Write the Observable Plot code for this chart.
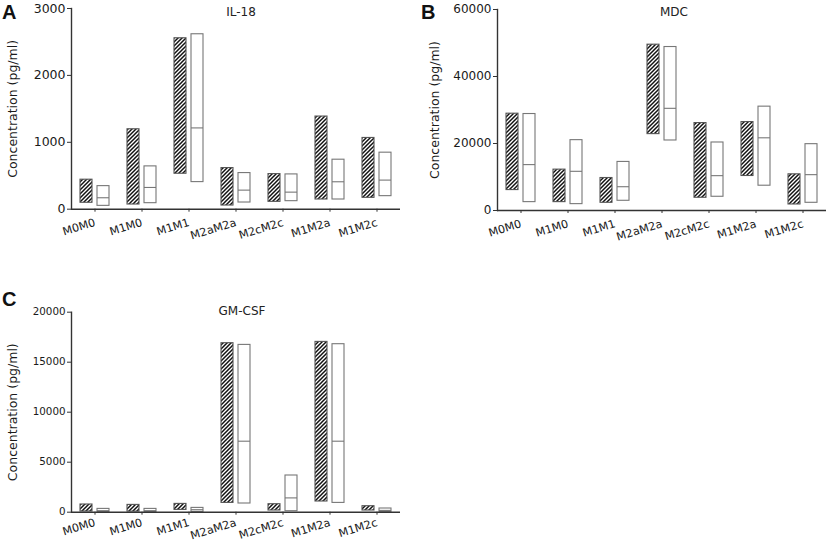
<!DOCTYPE html>
<html>
<head>
<meta charset="utf-8">
<script src="https://cdn.jsdelivr.net/npm/d3@7"></script>
<script src="https://cdn.jsdelivr.net/npm/@observablehq/plot@0.6"></script>
<style>
  body { margin: 0; background: #fff; }
  #wrap { position: relative; width: 829px; height: 542px; background: #fff; font-family: "DejaVu Sans", sans-serif; overflow: hidden; }
  .letter { position: absolute; font-family: "Liberation Sans", Arial, sans-serif; font-weight: bold; font-size: 20px; color: #111; }
  .title { position: absolute; font-size: 12px; color: #222; transform: translateX(-50%); white-space: nowrap; }
</style>
</head>
<body>
<div id="wrap"></div>
<script>
const groups = ["M0M0", "M1M0", "M1M1", "M2aM2a", "M2cM2c", "M1M2a", "M1M2c"];
const yLabel = "Concentration (pg/ml)";

// IL-18
const il18Ticks = [0, 1000, 2000, 3000];
const il18HatchLow  = [96, 70, 530, 55, 110, 145, 170];
const il18HatchHigh = [441, 1195, 2555, 615, 525, 1385, 1065];
const il18OpenLow   = [50, 90, 405, 100, 120, 145, 195];
const il18OpenHigh  = [345, 640, 2615, 540, 520, 740, 845];
const il18OpenMed   = [171, 325, 1215, 285, 255, 410, 435];

// MDC
const mdcTicks = [0, 20000, 40000, 60000];
const mdcHatchLow  = [6100, 2500, 2300, 22800, 3800, 10300, 1800];
const mdcHatchHigh = [28900, 12200, 9700, 49500, 26100, 26400, 10800];
const mdcOpenLow   = [2500, 1900, 2900, 20900, 4100, 7400, 2300];
const mdcOpenHigh  = [28800, 21000, 14500, 48800, 20300, 31000, 19800];
const mdcOpenMed   = [13700, 11700, 7100, 30500, 10400, 21700, 10700];

// GM-CSF
const gmTicks = [0, 5000, 10000, 15000, 20000];
const gmHatchLow  = [70, 60, 230, 930, 170, 1070, 170];
const gmHatchHigh = [770, 730, 830, 16900, 800, 17030, 600];
const gmOpenLow   = [30, 30, 30, 870, 100, 930, 30];
const gmOpenHigh  = [330, 330, 430, 16730, 3670, 16800, 370];
const gmOpenMed   = [150, 150, 250, 7100, 1430, 7100, 180];

const wrap = document.getElementById("wrap");

function rows(hl, hh, ol, oh, om) {
  return groups.flatMap((g, i) => [
    {group: g, series: "h", low: hl[i], high: hh[i]},
    {group: g, series: "o", low: ol[i], high: oh[i], med: om[i]}
  ]);
}

function panel(cfg) {
  const data = rows(cfg.hl, cfg.hh, cfg.ol, cfg.oh, cfg.om);
  const hatched = data.filter(d => d.series === "h");
  const open = data.filter(d => d.series === "o");
  const pid = "hatch-" + cfg.id;
  const svg = Plot.plot({
    width: cfg.width,
    height: cfg.height,
    marginLeft: cfg.ml, marginRight: cfg.mr, marginTop: cfg.mt, marginBottom: cfg.mb,
    style: {fontFamily: "DejaVu Sans, sans-serif", fontSize: "12px", color: "#1a1a1a", background: "transparent", overflow: "visible"},
    fx: {domain: groups, padding: 0, label: null},
    x: {domain: ["h", "o"], paddingInner: 0.3, paddingOuter: 0.49, axis: null},
    y: {domain: [cfg.ticks[0], cfg.ticks[cfg.ticks.length - 1]], label: yLabel},
    marks: [
      Plot.barY(hatched, {fx: "group", x: "series", y1: "low", y2: "high", fill: "url(#" + pid + ")", stroke: "#555", strokeWidth: 1.1}),
      Plot.barY(open, {fx: "group", x: "series", y1: "low", y2: "high", fill: "white", stroke: "#777", strokeWidth: 1.1}),
      Plot.tickY(open, {fx: "group", x: "series", y: "med", stroke: "#777", strokeWidth: 1.1}),
      Plot.ruleY([0], {stroke: "#333", strokeWidth: 1.4}),
      Plot.frame({anchor: "left", facetAnchor: "left", stroke: "#333", strokeWidth: 1.4}),
      Plot.axisY({ticks: cfg.ticks, tickSize: 4, tickPadding: 2, tickFormat: d => String(d), fontSize: cfg.yFont,
        label: null, stroke: "#333"}),
      Plot.axisY({ticks: cfg.ticks, tickSize: 0, tickFormat: () => "", fontSize: 12.5,
        label: yLabel, labelAnchor: "center", labelArrow: false, labelOffset: cfg.labelOffset}),
      Plot.axisFx({anchor: "bottom", tickRotate: -17, tickSize: 3, tickPadding: cfg.xPad, fontSize: 11.2, label: null, stroke: "#333"})
    ]
  });
  const defs = d3.select(svg).insert("defs", ":first-child");
  const pat = defs.append("pattern")
    .attr("id", pid).attr("patternUnits", "userSpaceOnUse")
    .attr("width", 4).attr("height", 4);
  pat.append("rect").attr("width", 4).attr("height", 4).attr("fill", "white");
  pat.append("path").attr("d", "M-1,1 l2,-2 M0,4 l4,-4 M3,5 l2,-2")
    .attr("stroke", "#111").attr("stroke-width", 1.5);
  svg.style.position = "absolute";
  svg.style.left = cfg.left + "px";
  svg.style.top = cfg.top + "px";
  svg.style.overflow = "visible";
  wrap.appendChild(svg);

  const letter = document.createElement("div");
  letter.className = "letter";
  letter.textContent = cfg.letter;
  letter.style.left = cfg.letterX + "px";
  letter.style.top = cfg.letterY + "px";
  wrap.appendChild(letter);

  const title = document.createElement("div");
  title.className = "title";
  title.textContent = cfg.title;
  title.style.left = cfg.titleX + "px";
  title.style.top = cfg.titleY + "px";
  wrap.appendChild(title);
}

panel({id: "a", letter: "A", title: "IL-18", left: 0, top: 0, width: 414, height: 245,
  ml: 69, mr: 12, mt: 8, mb: 36.3, ticks: il18Ticks, yFont: 12.5, labelOffset: 63, xPad: 10,
  hl: il18HatchLow, hh: il18HatchHigh, ol: il18OpenLow, oh: il18OpenHigh, om: il18OpenMed,
  letterX: 2, letterY: 1, titleX: 241, titleY: 5});

panel({id: "b", letter: "B", title: "MDC", left: 414, top: 0, width: 415, height: 245,
  ml: 82, mr: 2, mt: 9, mb: 35, ticks: mdcTicks, yFont: 12, labelOffset: 67, xPad: 10,
  hl: mdcHatchLow, hh: mdcHatchHigh, ol: mdcOpenLow, oh: mdcOpenHigh, om: mdcOpenMed,
  letterX: 421, letterY: 1, titleX: 674, titleY: 5});

panel({id: "c", letter: "C", title: "GM-CSF", left: 0, top: 300, width: 414, height: 242,
  ml: 70, mr: 14, mt: 11.7, mb: 30.3, ticks: gmTicks, yFont: 10.3, labelOffset: 63, xPad: 7,
  hl: gmHatchLow, hh: gmHatchHigh, ol: gmOpenLow, oh: gmOpenHigh, om: gmOpenMed,
  letterX: 2, letterY: 288, titleX: 242, titleY: 304});
</script>
</body>
</html>
